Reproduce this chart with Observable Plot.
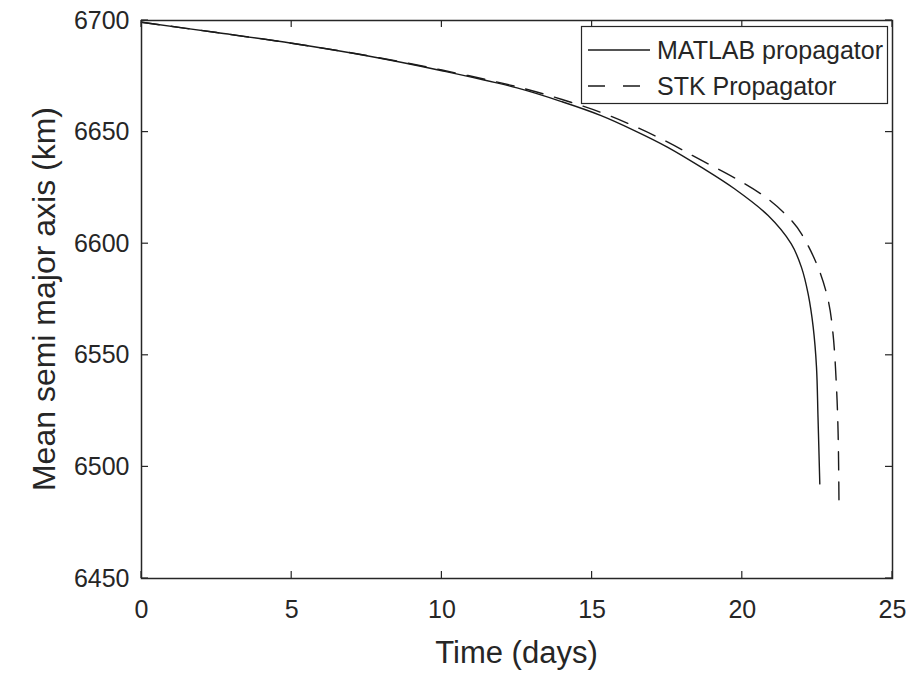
<!DOCTYPE html>
<html>
<head>
<meta charset="utf-8">
<script src="https://cdn.jsdelivr.net/npm/d3@7"></script>
<script src="https://cdn.jsdelivr.net/npm/@observablehq/plot@0.6"></script>
<style>
  html, body { margin: 0; padding: 0; background: #fff; }
  svg { font-family: "Liberation Sans", Arial, sans-serif; }
</style>
</head>
<body>
<div id="chart"></div>
<script>
// ---- data ----
const matlabDays = [0, 2.5, 5, 7.5, 10, 12.5, 14, 15.3, 16.41, 17.52, 18.63, 19.74, 20.86, 21.63, 21.97, 22.19, 22.36, 22.47, 22.52, 22.58];
const matlabSMA  = [6699.2, 6694.6, 6689.8, 6684.2, 6677.5, 6669.8, 6663.6, 6657.4, 6650.7, 6643.2, 6634.3, 6624.6, 6612.6, 6599.9, 6589.4, 6577.6, 6562.6, 6544.7, 6522.3, 6492.4];

const stkDays = [0, 2.5, 5, 7.5, 10, 12.5, 14, 15.3, 16.41, 17.52, 18.63, 19.74, 20.86, 21.63, 21.97, 22.52, 22.86, 23.02, 23.13, 23.19, 23.22];
const stkSMA  = [6699.2, 6694.6, 6689.8, 6684.3, 6677.8, 6670.3, 6664.6, 6658.8, 6652.6, 6645.5, 6637.4, 6629.5, 6620.0, 6610.5, 6604.4, 6589.5, 6574.6, 6559.6, 6537.2, 6514.8, 6481.4];

const xTicks = [0, 5, 10, 15, 20, 25];
const yTicks = [6450, 6500, 6550, 6600, 6650, 6700];
const seriesNames = ["MATLAB propagator", "STK Propagator"];
const xLabel = "Time (days)";
const yLabel = "Mean semi major axis (km)";

const matlab = matlabDays.map((d, i) => ({t: d, a: matlabSMA[i]}));
const stk = stkDays.map((d, i) => ({t: d, a: stkSMA[i]}));

// ---- layout ----
const W = 917, H = 674;
const mL = 141, mR = 25, mT = 20, mB = 96;
const innerW = W - mL - mR, innerH = H - mT - mB;
const ink = "#262626";
const lineInk = "#1a1a1a";
const dash = "18,12";
const tickLen = 7;

const chart = Plot.plot({
  width: W, height: H,
  marginLeft: mL, marginRight: mR, marginTop: mT, marginBottom: mB,
  style: {fontFamily: '"Liberation Sans", Arial, sans-serif', color: ink, background: "#fff"},
  x: {domain: [0, 25]},
  y: {domain: [6450, 6700]},
  marks: [
    Plot.line(matlab, {x: "t", y: "a", stroke: lineInk, strokeWidth: 1.4, curve: "catmull-rom"}),
    Plot.line(stk, {x: "t", y: "a", stroke: lineInk, strokeWidth: 1.4, strokeDasharray: dash, curve: "catmull-rom"}),
    Plot.axisX({anchor: "bottom", ticks: xTicks, tickSize: 0, tickPadding: 22, fontSize: 25, label: null, tickFormat: d => String(d), fill: ink}),
    Plot.axisY({anchor: "left", ticks: yTicks, tickSize: 0, tickPadding: 12, fontSize: 25, label: null, tickFormat: d => String(d), fill: ink}),
    Plot.frame({stroke: ink, strokeWidth: 1.5})
  ]
});

document.getElementById("chart").appendChild(chart);

const svg = d3.select(chart);
const xs = chart.scale("x"), ys = chart.scale("y");
const frameTop = mT, frameBottom = mT + innerH, frameLeft = mL, frameRight = mL + innerW;

// inward ticks on all four sides, placed through Plot's own scales
const tg = svg.append("g").attr("stroke", ink).attr("stroke-width", 1.2);
xTicks.forEach(t => {
  const px = xs.apply(t);
  tg.append("line").attr("x1", px).attr("x2", px).attr("y1", frameBottom).attr("y2", frameBottom - tickLen);
  tg.append("line").attr("x1", px).attr("x2", px).attr("y1", frameTop).attr("y2", frameTop + tickLen);
});
yTicks.forEach(v => {
  const py = ys.apply(v);
  tg.append("line").attr("y1", py).attr("y2", py).attr("x1", frameLeft).attr("x2", frameLeft + tickLen);
  tg.append("line").attr("y1", py).attr("y2", py).attr("x1", frameRight).attr("x2", frameRight - tickLen);
});

// axis labels
svg.append("text")
  .attr("x", mL + innerW / 2).attr("y", 663)
  .attr("text-anchor", "middle")
  .attr("font-size", 31).attr("fill", ink)
  .text(xLabel);
svg.append("text")
  .attr("transform", `translate(55, ${mT + innerH / 2}) rotate(-90)`)
  .attr("text-anchor", "middle")
  .attr("font-size", 32).attr("fill", ink)
  .text(yLabel);

// legend
const lg = svg.append("g");
lg.append("rect")
  .attr("x", 581.5).attr("y", 26.5).attr("width", 306).attr("height", 77)
  .attr("fill", "#fff").attr("stroke", ink).attr("stroke-width", 1.2);
const rows = [{y: 50, dash: null}, {y: 86, dash: "17,18"}];
rows.forEach((r, i) => {
  lg.append("line")
    .attr("x1", 588).attr("x2", 650).attr("y1", r.y).attr("y2", r.y)
    .attr("stroke", lineInk).attr("stroke-width", 1.4)
    .attr("stroke-dasharray", r.dash);
  lg.append("text")
    .attr("x", 657).attr("y", r.y).attr("dy", "0.36em")
    .attr("text-anchor", "start")
    .attr("font-size", 25).attr("fill", ink)
    .text(seriesNames[i]);
});
</script>
</body>
</html>
